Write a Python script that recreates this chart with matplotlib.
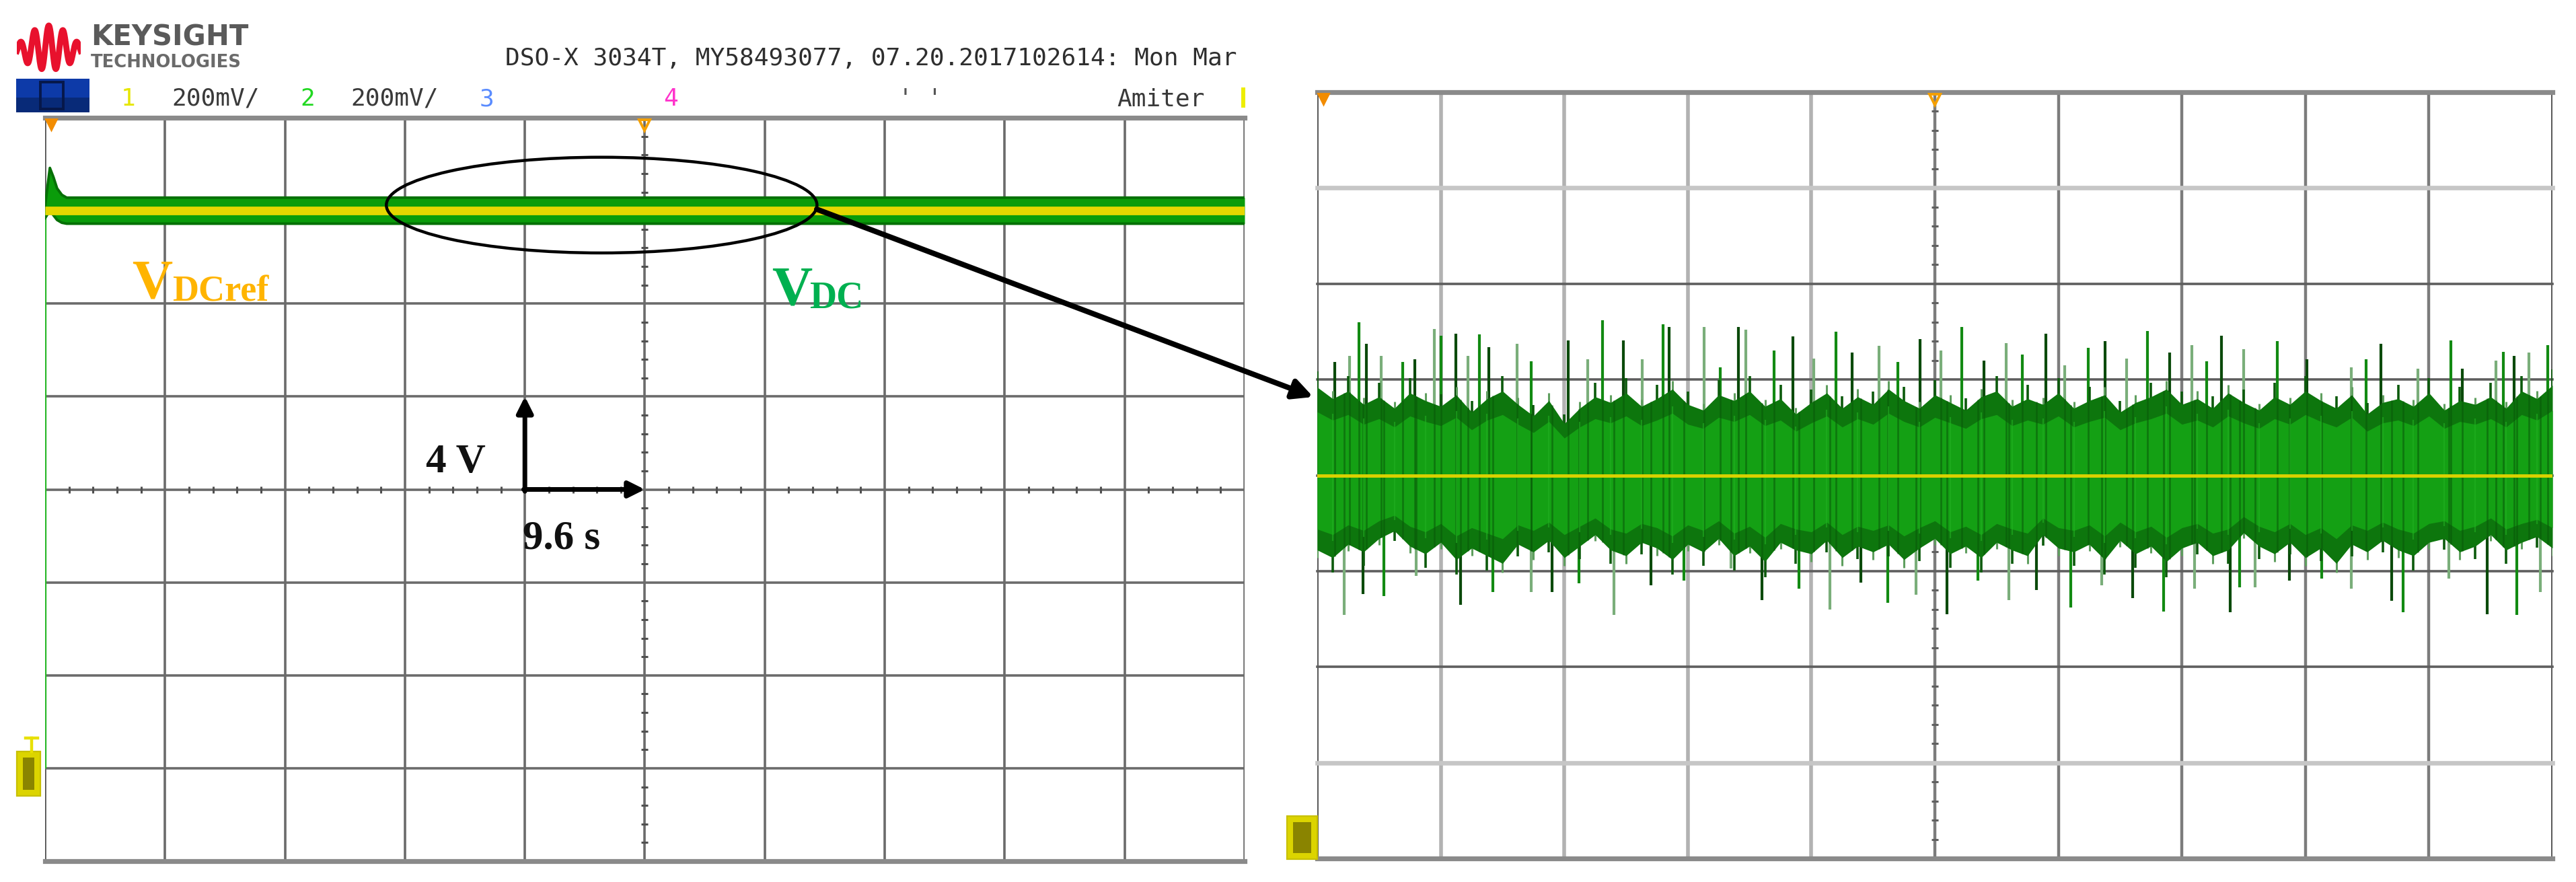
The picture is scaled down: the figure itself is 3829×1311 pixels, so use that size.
import matplotlib

matplotlib.use("Agg")
import matplotlib.pyplot as plt
import numpy as np
from matplotlib.patches import Ellipse, FancyArrowPatch, Rectangle

W, H = 3830, 1311
DPI = 200

# Left screen: DC-link start-up, values in screen divisions (4 V/div, 9.6 s/div)
startup_t = [0.0, 0.04, 0.07, 0.10, 0.14, 0.18, 0.25, 10.0]
vdc_hi = [3.05, 3.46, 3.36, 3.24, 3.17, 3.14, 3.14, 3.14]
vdc_lo = [2.92, 3.00, 2.95, 2.90, 2.87, 2.86, 2.86, 2.86]
vdc_ground = -3.0
vdcref_t = [0.0, 10.0]
vdcref_v = [3.0, 3.0]

# Right screen: zoom into the steady state ripple
zoom_env_x = np.arange(0, 10.001, 0.125)
zoom_env_hi = [0.92, 0.80, 0.88, 0.74, 0.82, 0.70, 0.86, 0.78, 0.72, 0.84,
               0.66, 0.80, 0.88, 0.74, 0.62, 0.78, 0.54, 0.70, 0.82, 0.76,
               0.86, 0.72, 0.80, 0.90, 0.74, 0.68, 0.84, 0.78, 0.88, 0.72,
               0.80, 0.64, 0.76, 0.86, 0.70, 0.82, 0.74, 0.90, 0.78, 0.70,
               0.84, 0.76, 0.68, 0.82, 0.88, 0.72, 0.80, 0.74, 0.86, 0.70,
               0.78, 0.84, 0.66, 0.76, 0.82, 0.90, 0.74, 0.80, 0.70, 0.86,
               0.76, 0.68, 0.82, 0.74, 0.88, 0.78, 0.70, 0.84, 0.64, 0.76,
               0.80, 0.72, 0.86, 0.68, 0.78, 0.74, 0.82, 0.70, 0.88, 0.80,
               0.94]
zoom_env_lo = [-0.78, -0.86, -0.72, -0.80, -0.66, -0.58, -0.74, -0.82, -0.70, -0.88,
               -0.76, -0.84, -0.92, -0.72, -0.80, -0.68, -0.86, -0.74, -0.62, -0.78,
               -0.84, -0.70, -0.76, -0.88, -0.72, -0.80, -0.66, -0.84, -0.74, -0.90,
               -0.70, -0.78, -0.82, -0.68, -0.86, -0.74, -0.80, -0.72, -0.88, -0.76,
               -0.66, -0.82, -0.74, -0.86, -0.70, -0.78, -0.84, -0.62, -0.76, -0.80,
               -0.72, -0.88, -0.68, -0.82, -0.74, -0.90, -0.76, -0.70, -0.84, -0.78,
               -0.60, -0.74, -0.82, -0.70, -0.86, -0.76, -0.92, -0.72, -0.80, -0.68,
               -0.78, -0.84, -0.70, -0.66, -0.80, -0.74, -0.62, -0.78, -0.70, -0.64,
               -0.76]
spike_top_x = [0.14, 0.26, 0.34, 0.40, 0.52, 0.69, 0.79, 0.95, 1.00, 1.12,
               1.22, 1.31, 1.39, 1.62, 1.73, 2.03, 2.19, 2.31, 2.48, 2.63,
               2.80, 2.85, 3.13, 3.26, 3.41, 3.47, 3.70, 3.85, 4.02, 4.20,
               4.33, 4.55, 4.70, 4.88, 5.05, 5.22, 5.40, 5.58, 5.71, 5.90,
               6.05, 6.24, 6.38, 6.55, 6.72, 6.90, 7.08, 7.20, 7.32, 7.50,
               7.77, 8.01, 8.37, 8.49, 8.61, 8.91, 9.18, 9.27, 9.54, 9.60,
               9.69, 9.81, 9.96]
spike_top = [1.18, 1.25, 1.60, 1.37, 1.25, 1.18, 1.21, 1.53, 1.46, 1.48,
             1.25, 1.47, 1.34, 1.37, 1.19, 1.41, 1.21, 1.62, 1.41, 1.21,
             1.58, 1.55, 1.55, 1.13, 1.55, 1.52, 1.30, 1.45, 1.22, 1.50,
             1.28, 1.35, 1.18, 1.42, 1.30, 1.55, 1.20, 1.38, 1.26, 1.48,
             1.15, 1.33, 1.40, 1.22, 1.51, 1.28, 1.36, 1.19, 1.46, 1.32,
             1.40, 1.21, 1.13, 1.21, 1.37, 1.11, 1.41, 1.11, 1.20, 1.29,
             1.25, 1.28, 1.36]
spike_bot_x = [0.22, 0.37, 0.54, 0.80, 1.16, 1.42, 1.73, 1.90, 2.12, 2.40,
               2.70, 2.97, 3.35, 3.60, 3.90, 4.15, 4.40, 4.62, 4.85, 5.10,
               5.35, 5.60, 5.82, 6.10, 6.35, 6.60, 6.85, 7.10, 7.39, 7.47,
               7.59, 7.87, 8.13, 8.37, 8.70, 8.79, 9.16, 9.47, 9.71, 9.90]
spike_bot = [-1.46, -1.24, -1.26, -1.05, -1.35, -1.22, -1.22, -1.22, -1.13, -1.46,
             -1.15, -1.10, -0.97, -1.30, -1.18, -1.40, -1.12, -1.33, -1.25, -1.45,
             -1.10, -1.30, -1.20, -1.38, -1.15, -1.28, -1.42, -1.18, -1.43, -1.17,
             -1.17, -1.10, -1.08, -1.18, -1.31, -1.43, -1.08, -1.45, -1.46, -1.22]
zoom_ref_v = 0.0

# Header texts of the scope screenshot
header_title = "DSO-X 3034T, MY58493077, 07.20.2017102614: Mon Mar"
channel_labels = ["1", "200mV/", "2", "200mV/", "3", "4", "' '", "Amiter"]
channel_colors = ["#e6e600", "#3a3a3a", "#22d822", "#3a3a3a", "#5a8cff", "#ff33cc", "#555555", "#3a3a3a"]
channel_px = [180, 255, 446, 521, 713, 986, 1335, 1660]


def fxy(px, py):
    """Pixel position in the picture -> figure fraction."""
    return px / W, 1 - py / H


def screen_axes(fig, x0, y0, x1, y1):
    ax = fig.add_axes([x0 / W, 1 - y1 / H, (x1 - x0) / W, (y1 - y0) / H])
    ax.set_xlim(0, 10)
    ax.set_ylim(-4, 4)
    ax.axis("off")
    return ax


def minor_ticks(ax, color):
    xs = [k / 5 for k in range(51) if k % 5]
    ys = [k / 5 for k in range(-20, 21) if k % 5]
    ax.plot(xs, [0] * len(xs), ls="none", marker="|", ms=3.6, mew=1.1, color=color, zorder=1.5)
    ax.plot([5] * len(ys), ys, ls="none", marker="_", ms=3.6, mew=1.1, color=color, zorder=1.5)


def trigger_marks(ax):
    ax.plot(0.05, 3.93, marker="v", color="#f28c00", ms=6, clip_on=False, zorder=8)
    ax.plot(5, 3.92, marker="v", mfc="none", mec="#f5a000", ms=6, mew=1.4, clip_on=False, zorder=8)


fig = plt.figure(figsize=(W / DPI, H / DPI), dpi=DPI)
fig.patch.set_facecolor("white")

# ---------------- left screen ----------------
ax1 = screen_axes(fig, 67, 175, 1850, 1280)
for x in range(11):
    ax1.axvline(x, color="#6b6b6b" if x else "#505050", lw=1.3, zorder=1)
for y in range(-3, 4):
    ax1.axhline(y, color="#6b6b6b", lw=1.3, zorder=1)
for y in (-4, 4):
    ax1.axhline(y, color="#8a8a8a", lw=2.6, zorder=1, clip_on=False)
minor_ticks(ax1, "#505050")
trigger_marks(ax1)

ax1.vlines(0.0, vdc_ground, 3.0, color="#2ab82a", lw=1.2, zorder=3)
ax1.fill_between(startup_t, vdc_lo, vdc_hi, color="#0a9c0a", lw=0, zorder=3)
ax1.plot(startup_t, vdc_hi, color="#067006", lw=1.4, zorder=3)
ax1.plot(startup_t, vdc_lo, color="#067006", lw=1.4, zorder=3)
ax1.plot(vdcref_t, vdcref_v, color="#e4d700", lw=4.6, solid_capstyle="butt", zorder=4)

ax1.add_patch(Ellipse((4.64, 3.06), 3.59, 1.03, fill=False, ec="black", lw=1.6, zorder=6, clip_on=False))
arrow_kw = dict(arrowstyle="-|>", lw=2.5, color="black", mutation_scale=18, shrinkA=0, shrinkB=0)
ax1.annotate("", xy=(4.0, 1.0), xytext=(4.0, -0.02), arrowprops=arrow_kw, zorder=6)
ax1.annotate("", xy=(5.0, 0.0), xytext=(3.99, 0.0), arrowprops=arrow_kw, zorder=6)

# ---------------- right screen ----------------
ax2 = screen_axes(fig, 1958, 137, 3794, 1276)
for x in range(11):
    if x in (0, 10):
        col, lw = "#555555", 1.4
    elif x <= 4:
        col, lw = "#b2b2b2", 2.0
    else:
        col, lw = "#7c7c7c", 1.6
    ax2.axvline(x, color=col, lw=lw, zorder=1)
for y in range(-4, 5):
    if abs(y) == 4:
        col, lw = "#8a8a8a", 2.6
    elif abs(y) == 3:
        col, lw = "#c6c6c6", 2.4
    else:
        col, lw = "#5e5e5e", 1.3
    ax2.axhline(y, color=col, lw=lw, zorder=1, clip_on=False)
minor_ticks(ax2, "#606060")
trigger_marks(ax2)

env_hi = np.array(zoom_env_hi)
env_lo = np.array(zoom_env_lo)
top_cols = ["#0b4a0b" if i % 3 == 0 else "#7aae7a" if i % 3 == 1 else "#128a12" for i in range(len(spike_top_x))]
bot_cols = ["#7aae7a" if i % 3 == 0 else "#0b4a0b" if i % 3 == 1 else "#128a12" for i in range(len(spike_bot_x))]
ax2.vlines(spike_top_x, 0.3, spike_top, colors=top_cols, lw=1.5, zorder=2)
ax2.vlines(spike_bot_x, spike_bot, -0.3, colors=bot_cols, lw=1.5, zorder=2)
# ragged outer rim: short strokes reaching a bit past the dense band
ax2.vlines(zoom_env_x[::2], 0, env_hi[::2] * 1.18, colors="#0c5a0c", lw=1.3, zorder=2.1)
ax2.vlines(zoom_env_x[1::2], env_lo[1::2] * 1.18, 0, colors="#0c5a0c", lw=1.3, zorder=2.1)
ax2.vlines(zoom_env_x[1::2], 0, env_hi[1::2] * 1.1, colors="#5f9f5f", lw=1.1, zorder=2.1)
ax2.vlines(zoom_env_x[::2], env_lo[::2] * 1.1, 0, colors="#5f9f5f", lw=1.1, zorder=2.1)
ax2.fill_between(zoom_env_x, env_lo, env_hi, color="#0d760d", lw=0, zorder=2.2)
ax2.fill_between(zoom_env_x, env_lo * 0.72, env_hi * 0.72, color="#14a014", lw=0, zorder=2.3)
stripe_x = sorted(spike_top_x + spike_bot_x)
ax2.vlines(stripe_x, np.interp(stripe_x, zoom_env_x, env_lo), np.interp(stripe_x, zoom_env_x, env_hi),
           colors="#095809", lw=1.0, alpha=0.55, zorder=2.4)
ax2.vlines(zoom_env_x[1::2], env_lo[1::2] * 0.8, env_hi[1::2] * 0.8,
           colors="#22b022", lw=0.8, alpha=0.6, zorder=2.4)
ax2.axhline(zoom_ref_v, color="#d8d000", lw=1.8, zorder=4)

# big zoom arrow from ellipse to the right screen
fig.add_artist(FancyArrowPatch(fxy(1214, 311), fxy(1952, 590), transform=fig.transFigure,
                               arrowstyle="-|>", mutation_scale=22, lw=2.9, color="black",
                               shrinkA=0, shrinkB=0))

# trace labels
serif = "Liberation Serif"
fig.text(*fxy(196, 443), "V", color="#ffb400", fontsize=30, fontweight="bold", family=serif)
fig.text(*fxy(256, 447), "DCref", color="#ffb400", fontsize=19.5, fontweight="bold", family=serif)
fig.text(*fxy(1147, 453), "V", color="#00b050", fontsize=30, fontweight="bold", family=serif)
fig.text(*fxy(1203, 458), "DC", color="#00b050", fontsize=20, fontweight="bold", family=serif)
fig.text(*fxy(633, 702), "4 V", color="#111111", fontsize=22, fontweight="bold", family=serif)
fig.text(*fxy(777, 815), "9.6 s", color="#111111", fontsize=22, fontweight="bold", family=serif)

# ground reference markers
for x0, y0, x1, y1 in [(25, 1117, 60, 1183), (1913, 1213, 1958, 1277)]:
    fig.add_artist(Rectangle(fxy(x0, y1), (x1 - x0) / W, (y1 - y0) / H, transform=fig.transFigure,
                             fc="#dcd400", ec="#c8c000", lw=0.8))
    fig.add_artist(Rectangle(fxy(x0 + 9, y1 - 9), (x1 - x0 - 18) / W, (y1 - y0 - 18) / H,
                             transform=fig.transFigure, fc="#8a8400", ec="none"))
fig.add_artist(plt.Line2D([47 / W, 47 / W], [1 - 1097 / H, 1 - 1117 / H], color="#e8e000", lw=1.6))
fig.add_artist(plt.Line2D([38 / W, 56 / W], [1 - 1097 / H, 1 - 1097 / H], color="#e8e000", lw=1.6))

# ---------------- header ----------------
logo = fig.add_axes([25 / W, 1 - 112 / H, 95 / W, 79 / H])
t = np.linspace(0, 1, 400)
logo.plot(t, np.sin(2 * np.pi * 4.5 * t) * (0.25 + 0.75 * np.sin(np.pi * t)) + 0.15 * np.sin(np.pi * t),
          color="#e8112d", lw=3.2)
logo.set_xlim(0, 1)
logo.set_ylim(-1.1, 1.3)
logo.axis("off")

fig.text(*fxy(135, 67), "KEYSIGHT", color="#5a5a5a", fontsize=15, fontweight="bold", family="DejaVu Sans")
fig.text(*fxy(135, 100), "TECHNOLOGIES", color="#6a6a6a", fontsize=9.3, fontweight="bold", family="DejaVu Sans")
fig.text(*fxy(751, 97), header_title, color="#2e2e2e", fontsize=13, family="DejaVu Sans Mono")

fig.add_artist(Rectangle(fxy(24, 167), 109 / W, 50 / H, transform=fig.transFigure, fc="#0d3aa8", ec="none"))
fig.add_artist(Rectangle(fxy(24, 167), 109 / W, 22 / H, transform=fig.transFigure, fc="#082a78", ec="none"))
fig.add_artist(Rectangle(fxy(60, 162), 34 / W, 40 / H, transform=fig.transFigure, fc="none", ec="#06184a", lw=1.4))
for label, color, px in zip(channel_labels, channel_colors, channel_px):
    fig.text(*fxy(px, 157), label, color=color, fontsize=13, family="DejaVu Sans Mono")
fig.add_artist(Rectangle(fxy(1845, 160), 6 / W, 30 / H, transform=fig.transFigure, fc="#eeee00", ec="none"))

fig.savefig("out.png", dpi=DPI)
